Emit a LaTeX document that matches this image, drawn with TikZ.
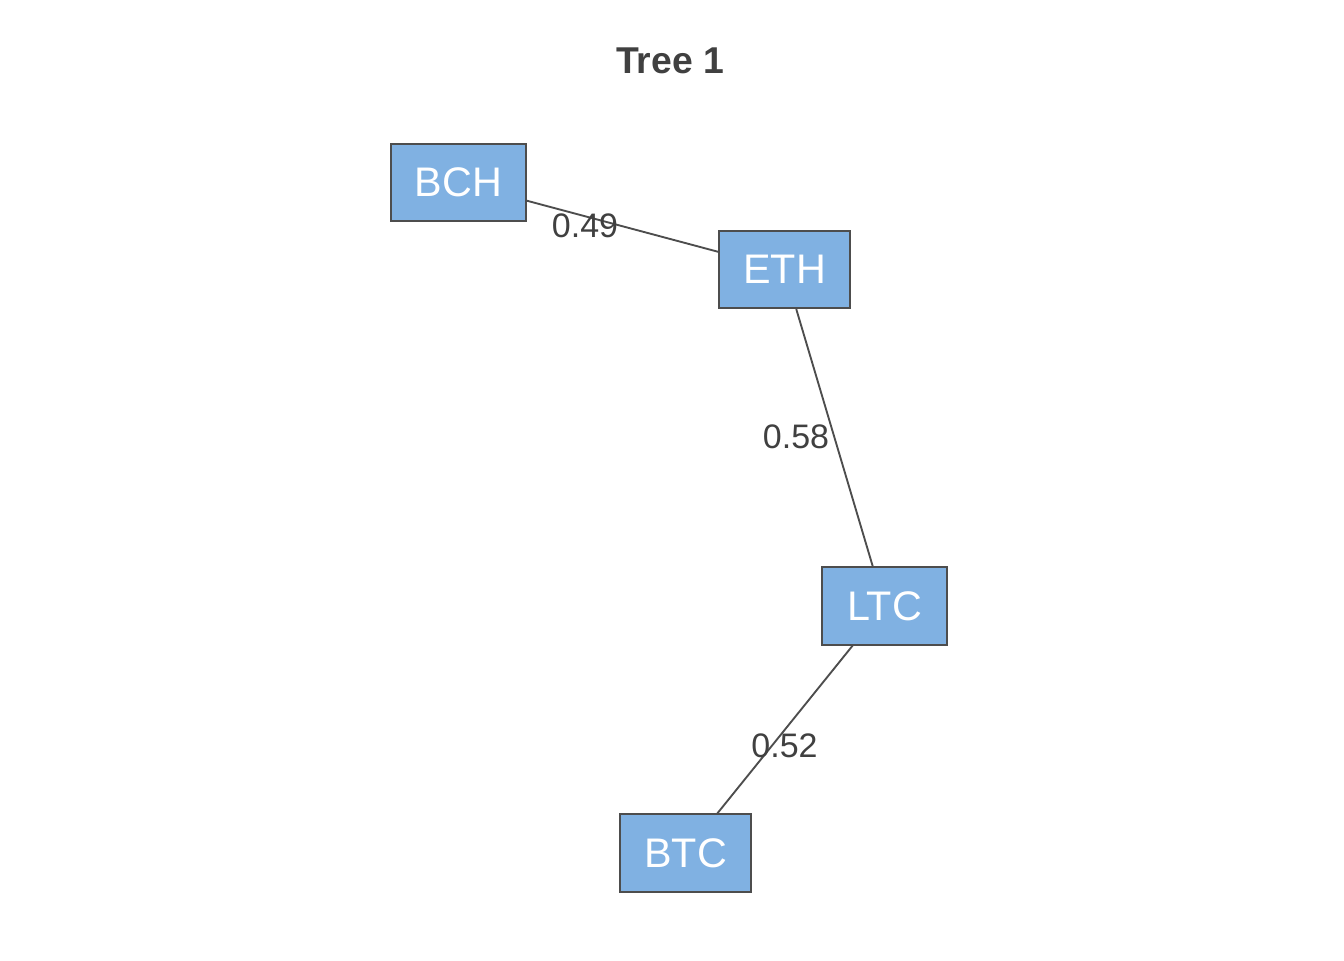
\documentclass[tikz,border=0pt]{standalone}
\usepackage{fontspec}
\setmainfont{Liberation Sans}
\usepackage{tikz}
\definecolor{treeblue}{HTML}{80B1E2}
\definecolor{treegray}{HTML}{4D4D4D}
\definecolor{labelgray}{HTML}{404040}
\tikzset{
	coin/.style={draw=treegray, line width=1.4pt, fill=treeblue, text=white, inner sep=0pt, minimum height=58pt, font=\fontsize{31}{36}\selectfont},
	weight/.style={text=labelgray, inner sep=0pt, font=\fontsize{25.5}{30}\selectfont},
	edge/.style={treegray, line width=1.4pt}
}

\begin{document}
\begin{tikzpicture}[x=0.75pt, y=-0.75pt]
			%%%%% START %%%%%
			
			\useasboundingbox (0, 0) rectangle (1344, 960);
			
			\node[text=labelgray, font=\bfseries\fontsize{28}{32}\selectfont] (title) at (670, 61) {Tree 1};
			
			\node[coin, minimum width=101.25pt] (bch) at (458.5, 182.5) {BCH};
			\node[coin, minimum width=98.25pt] (eth) at (784.5, 269.5) {ETH};
			\node[coin, minimum width=93.75pt] (ltc) at (884.5, 606) {LTC};
			\node[coin, minimum width=98.25pt] (btc) at (685.5, 853) {BTC};
			
			\draw[edge] (bch) -- (eth);
			\draw[edge] (eth) -- (ltc);
			\draw[edge] (ltc) -- (btc);
			
			\node[weight] (w1) at (585, 226) {0.49};
			\node[weight] (w2) at (796, 437) {0.58};
			\node[weight] (w3) at (784.5, 746) {0.52};
			
			%%%%% END %%%%%
\end{tikzpicture}
\end{document}
